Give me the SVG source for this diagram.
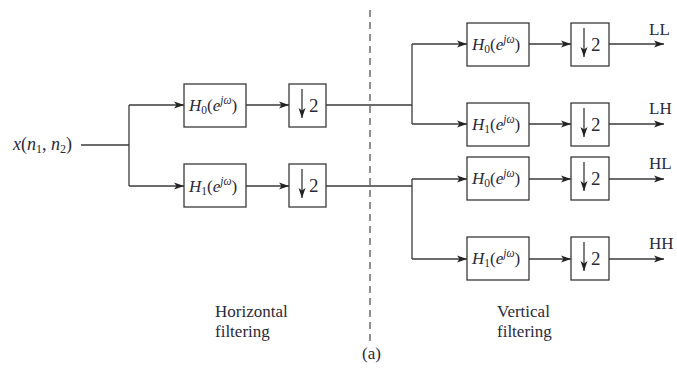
<svg xmlns="http://www.w3.org/2000/svg" width="677" height="370" viewBox="0 0 677 370">
<defs>
<style>
.ln{fill:none;stroke:#3a3a3a;stroke-width:1.3}
.bx{fill:#fff;stroke:#3a3a3a;stroke-width:1.3}
.t{font-family:"Liberation Serif","Times New Roman",serif;fill:#2a2a3a}
.f{font-size:17px}
.h{font-size:17px}
.i{font-style:italic}
.s{font-size:11.5px}
.two{font-size:19px}
.dash{fill:none;stroke:#555;stroke-width:1.3;stroke-dasharray:7 5}
</style>
<marker id="ah" viewBox="0 0 10 8" refX="10" refY="4" markerWidth="10" markerHeight="8" markerUnits="userSpaceOnUse" orient="auto">
<path d="M0,0.5 L10,4 L0,7.5 L2.5,4 Z" fill="#222"/>
</marker>
<marker id="da" viewBox="0 0 8 10" refX="4" refY="10" markerWidth="8" markerHeight="10" markerUnits="userSpaceOnUse" orient="0">
<path d="M0.5,0 L4,10 L7.5,0 L4,2.5 Z" fill="#222"/>
</marker>
</defs>
<rect width="677" height="370" fill="#fff"/>

<g id="connectors">
<path class="ln" d="M81,145 H129"/>
<path class="ln" d="M129,105 V186"/>
<path class="ln" d="M129,105 H184" marker-end="url(#ah)"/>
<path class="ln" d="M129,186 H184" marker-end="url(#ah)"/>
<path class="ln" d="M246,105 H289" marker-end="url(#ah)"/>
<path class="ln" d="M246,186 H289" marker-end="url(#ah)"/>
<path class="ln" d="M326,105 H412"/>
<path class="ln" d="M326,186 H412"/>
<path class="ln" d="M412,44 V124"/>
<path class="ln" d="M412,179 V259"/>
<path class="ln" d="M412,44 H467" marker-end="url(#ah)"/>
<path class="ln" d="M412,124 H467" marker-end="url(#ah)"/>
<path class="ln" d="M412,179 H467" marker-end="url(#ah)"/>
<path class="ln" d="M412,259 H467" marker-end="url(#ah)"/>
<path class="ln" d="M529,44 H571" marker-end="url(#ah)"/>
<path class="ln" d="M529,124 H571" marker-end="url(#ah)"/>
<path class="ln" d="M529,179 H571" marker-end="url(#ah)"/>
<path class="ln" d="M529,259 H571" marker-end="url(#ah)"/>
<path class="ln" d="M609,44 H664" marker-end="url(#ah)"/>
<path class="ln" d="M609,124 H664" marker-end="url(#ah)"/>
<path class="ln" d="M609,179 H664" marker-end="url(#ah)"/>
<path class="ln" d="M609,259 H664" marker-end="url(#ah)"/>
</g>

<path id="divider" class="dash" d="M370,10 V342"/>

<g id="input">
<text class="t" x="13" y="150" font-size="18"><tspan class="i">x</tspan>(<tspan class="i">n</tspan><tspan font-size="12" dy="3">1</tspan><tspan dy="-3">, </tspan><tspan class="i">n</tspan><tspan font-size="12" dy="3">2</tspan><tspan dy="-3">)</tspan></text>
</g>

<g id="h0a">
<rect class="bx" x="184" y="84" width="62" height="43"/>
<text class="t h" x="189" y="111"><tspan class="i">H</tspan><tspan class="s" dy="3">0</tspan><tspan dy="-3">(</tspan><tspan class="i">e</tspan><tspan class="i s" dy="-7">jω</tspan><tspan dy="7">)</tspan></text>
</g>
<g id="h1a">
<rect class="bx" x="184" y="164" width="62" height="43"/>
<text class="t h" x="189" y="192"><tspan class="i">H</tspan><tspan class="s" dy="3">1</tspan><tspan dy="-3">(</tspan><tspan class="i">e</tspan><tspan class="i s" dy="-7">jω</tspan><tspan dy="7">)</tspan></text>
</g>
<g id="d0a">
<rect class="bx" x="289" y="84" width="37" height="43"/>
<path class="ln" d="M302,89 V118" marker-end="url(#da)"/>
<text class="t two" x="309" y="112">2</text>
</g>
<g id="d1a">
<rect class="bx" x="289" y="164" width="37" height="43"/>
<path class="ln" d="M302,169 V198" marker-end="url(#da)"/>
<text class="t two" x="309" y="192">2</text>
</g>

<g id="h0LL">
<rect class="bx" x="467" y="23" width="62" height="43"/>
<text class="t h" x="472" y="50"><tspan class="i">H</tspan><tspan class="s" dy="3">0</tspan><tspan dy="-3">(</tspan><tspan class="i">e</tspan><tspan class="i s" dy="-7">jω</tspan><tspan dy="7">)</tspan></text>
</g>
<g id="h1LH">
<rect class="bx" x="467" y="103" width="62" height="43"/>
<text class="t h" x="472" y="130"><tspan class="i">H</tspan><tspan class="s" dy="3">1</tspan><tspan dy="-3">(</tspan><tspan class="i">e</tspan><tspan class="i s" dy="-7">jω</tspan><tspan dy="7">)</tspan></text>
</g>
<g id="h0HL">
<rect class="bx" x="467" y="157" width="62" height="43"/>
<text class="t h" x="472" y="184"><tspan class="i">H</tspan><tspan class="s" dy="3">0</tspan><tspan dy="-3">(</tspan><tspan class="i">e</tspan><tspan class="i s" dy="-7">jω</tspan><tspan dy="7">)</tspan></text>
</g>
<g id="h1HH">
<rect class="bx" x="467" y="237" width="62" height="43"/>
<text class="t h" x="472" y="264"><tspan class="i">H</tspan><tspan class="s" dy="3">1</tspan><tspan dy="-3">(</tspan><tspan class="i">e</tspan><tspan class="i s" dy="-7">jω</tspan><tspan dy="7">)</tspan></text>
</g>

<g id="dLL">
<rect class="bx" x="571" y="23" width="38" height="43"/>
<path class="ln" d="M584,28 V57" marker-end="url(#da)"/>
<text class="t two" x="591" y="51">2</text>
</g>
<g id="dLH">
<rect class="bx" x="571" y="103" width="38" height="43"/>
<path class="ln" d="M584,108 V137" marker-end="url(#da)"/>
<text class="t two" x="591" y="131">2</text>
</g>
<g id="dHL">
<rect class="bx" x="571" y="157" width="38" height="43"/>
<path class="ln" d="M584,162 V191" marker-end="url(#da)"/>
<text class="t two" x="591" y="185">2</text>
</g>
<g id="dHH">
<rect class="bx" x="571" y="237" width="38" height="43"/>
<path class="ln" d="M584,242 V271" marker-end="url(#da)"/>
<text class="t two" x="591" y="265">2</text>
</g>

<g id="outputs">
<text class="t f" x="649" y="35">LL</text>
<text class="t f" x="649" y="114">LH</text>
<text class="t f" x="649" y="169">HL</text>
<text class="t f" x="649" y="249">HH</text>
</g>

<g id="labels">
<text class="t f" x="215" y="317">Horizontal</text>
<text class="t f" x="215" y="337">filtering</text>
<text class="t f" x="497" y="317">Vertical</text>
<text class="t f" x="497" y="337">filtering</text>
<text class="t f" x="362" y="359">(a)</text>
</g>
</svg>
